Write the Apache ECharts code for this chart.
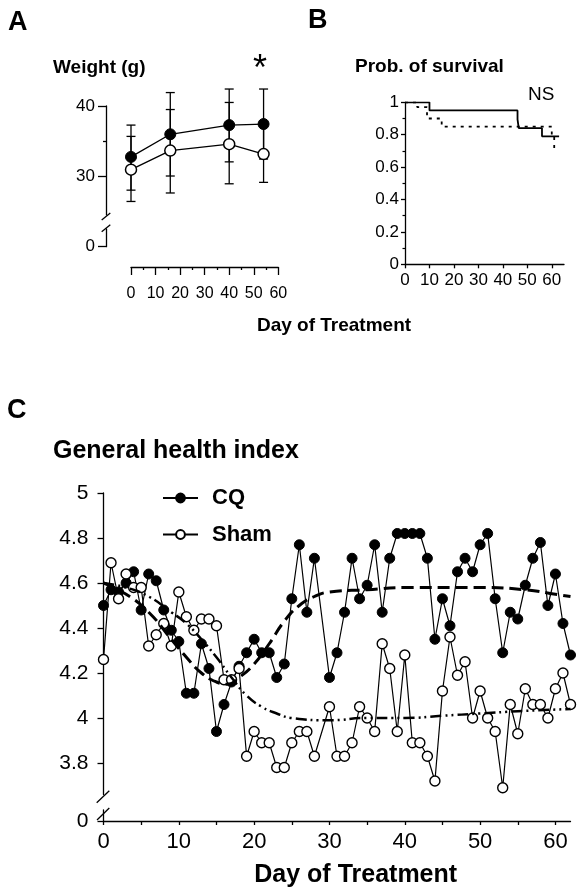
<!DOCTYPE html>
<html>
<head>
<meta charset="utf-8">
<script src="https://cdn.jsdelivr.net/npm/echarts@6.0.0/dist/echarts.min.js"></script>
<style>
html, body { margin: 0; padding: 0; background: #fff; }
#main { width: 580px; height: 888px; }
</style>
</head>
<body>
<div id="main"></div>
<script>
// ---- A: weight (g), mean and error bar ends
var weightDays = [0, 16, 40, 54];
var cqWeight = [32.8, 36.0, 37.3, 37.45];
var cqWeightHi = [37.3, 41.9, 42.4, 42.4];
var cqWeightLo = [28.1, 30.1, 32.1, 32.5];
var shamWeight = [31.0, 33.7, 34.6, 33.2];
var shamWeightHi = [35.7, 39.5, 40.5, 37.2];
var shamWeightLo = [26.5, 27.7, 29.0, 29.2];
var weightTicks = [30, 40];

// ---- B: probability of survival (step points)
var cqSurvDays = [0, 10, 46, 46.5, 56, 63];
var cqSurv = [1, 0.95, 0.895, 0.84, 0.79, 0.79];
var shamSurvDays = [0, 5, 9, 15, 60, 61];
var shamSurv = [1, 0.97, 0.9, 0.85, 0.79, 0.70];

// ---- C: general health index (no reading on day 29)
var healthDays = [0, 1, 2, 3, 4, 5, 6, 7, 8, 9, 10, 11, 12, 13, 14, 15, 16, 17, 18, 19,
    20, 21, 22, 23, 24, 25, 26, 27, 28, 30, 31, 32, 33, 34, 35, 36, 37, 38, 39, 40,
    41, 42, 43, 44, 45, 46, 47, 48, 49, 50, 51, 52, 53, 54, 55, 56, 57, 58, 59, 60, 61, 62];
var cqHealth = [4.50, 4.57, 4.56, 4.60, 4.65, 4.48, 4.64, 4.61, 4.48, 4.39, 4.34, 4.11, 4.11, 4.33, 4.22, 3.94, 4.06, 4.16, 4.23, 4.29,
    4.35, 4.29, 4.29, 4.18, 4.24, 4.53, 4.77, 4.47, 4.71, 4.18, 4.29, 4.47, 4.71, 4.53, 4.59, 4.77, 4.47, 4.71, 4.82, 4.82,
    4.82, 4.82, 4.71, 4.35, 4.53, 4.41, 4.65, 4.71, 4.65, 4.77, 4.82, 4.53, 4.29, 4.47, 4.44, 4.59, 4.71, 4.78, 4.50, 4.64, 4.42, 4.28];
var shamHealth = [4.26, 4.69, 4.53, 4.64, 4.58, 4.58, 4.32, 4.37, 4.42, 4.32, 4.56, 4.45, 4.39, 4.44, 4.44, 4.41, 4.17, 4.17, 4.22, 3.83,
    3.94, 3.89, 3.89, 3.78, 3.78, 3.89, 3.94, 3.94, 3.83, 4.05, 3.83, 3.83, 3.89, 4.05, 4.00, 3.94, 4.33, 4.22, 3.94, 4.28,
    3.89, 3.89, 3.83, 3.72, 4.12, 4.36, 4.19, 4.25, 4.00, 4.12, 4.00, 3.94, 3.69, 4.06, 3.93, 4.13, 4.06, 4.06, 4.00, 4.13, 4.20, 4.06];

// fitted trend curves
var cqTrendDays = [0, 3, 6, 9, 11, 13, 15, 16.5, 18, 20, 22, 24, 26, 28, 30, 35, 40, 50, 56, 60, 62];
var cqTrend = [4.60, 4.55, 4.47, 4.35, 4.27, 4.20, 4.16, 4.15, 4.18, 4.24, 4.33, 4.43, 4.50, 4.54, 4.56, 4.57, 4.58, 4.58, 4.57, 4.55, 4.54];
var shamTrendDays = [0, 3, 6, 9, 11, 13, 15, 17, 19, 21, 23, 25, 30, 35, 40, 45, 50, 55, 62];
var shamTrend = [4.60, 4.58, 4.54, 4.47, 4.42, 4.35, 4.27, 4.18, 4.10, 4.05, 4.02, 4.00, 3.99, 4.00, 4.00, 4.01, 4.02, 4.03, 4.04];

var healthTicks = [3.8, 4, 4.2, 4.4, 4.6, 4.8, 5];
var dayTicks = [0, 10, 20, 30, 40, 50, 60];
var dayTicks5 = [0, 5, 10, 15, 20, 25, 30, 35, 40, 45, 50, 55, 60];

var FONT = '"Liberation Sans", Arial, Helvetica, sans-serif';

function pairs(xs, ys) {
    return xs.map(function (x, i) { return [x, ys[i]]; });
}

function errorBarItem(params, api) {
    var x = api.value(0);
    var top = api.coord([x, api.value(1)]);
    var bot = api.coord([x, api.value(2)]);
    var w = 4.5;
    var st = { stroke: '#000', lineWidth: 1.3 };
    return {
        type: 'group',
        children: [
            { type: 'line', shape: { x1: top[0], y1: top[1], x2: bot[0], y2: bot[1] }, style: st },
            { type: 'line', shape: { x1: top[0] - w, y1: top[1], x2: top[0] + w, y2: top[1] }, style: st },
            { type: 'line', shape: { x1: bot[0] - w, y1: bot[1], x2: bot[0] + w, y2: bot[1] }, style: st }
        ]
    };
}

// axes are not pinned to the other axis' zero, so offsets work
var axisLine = { show: true, onZero: false, lineStyle: { color: '#000', width: 1.3 } };

var myChart = echarts.init(document.getElementById('main'));

option = {
    animation: false,
    textStyle: { fontFamily: FONT, color: '#000' },
    grid: [
        { left: 131, top: 106, width: 147.3, height: 108.9, outerBoundsMode: 'none' },   // A upper
        { left: 131, top: 229, width: 147.3, height: 17.7, outerBoundsMode: 'none' },    // A zero
        { left: 405, top: 102.3, width: 159, height: 162, outerBoundsMode: 'none' },     // B
        { left: 103.5, top: 493, width: 467, height: 301.5, outerBoundsMode: 'none' },   // C upper
        { left: 103.5, top: 810, width: 467, height: 11, outerBoundsMode: 'none' }       // C zero
    ],
    legend: {
        data: ['CQ', 'Sham'],
        orient: 'vertical',
        left: 157,
        top: 482,
        itemWidth: 35,
        itemHeight: 11,
        itemGap: 14.5,
        selectedMode: false,
        textStyle: { fontFamily: FONT, fontSize: 22, fontWeight: 'bold', color: '#000', padding: [0, 0, 0, 9] }
    },
    xAxis: [
        {
            gridIndex: 0, type: 'value', min: 0, max: 60, interval: 10, offset: 52.1,
            axisLine: axisLine,
            axisTick: { length: 8, lineStyle: { color: '#000', width: 1.3 } },
            minorTick: { show: true, splitNumber: 2, length: 3, lineStyle: { color: '#000', width: 1.3 } },
            axisLabel: { fontSize: 16, color: '#000', margin: 19, fontFamily: FONT },
            splitLine: { show: false }
        },
        { gridIndex: 1, type: 'value', min: 0, max: 60, show: false },
        {
            gridIndex: 2, type: 'value', min: 0, max: 65,
            axisLine: axisLine,
            axisTick: { customValues: dayTicks, length: 4, lineStyle: { color: '#000', width: 1.3 } },
            axisLabel: { customValues: dayTicks, fontSize: 17, color: '#000', margin: 8, fontFamily: FONT },
            splitLine: { show: false }
        },
        { gridIndex: 3, type: 'value', min: 0, max: 62, show: false },
        {
            gridIndex: 4, type: 'value', min: 0, max: 62,
            axisLine: axisLine,
            axisTick: { customValues: dayTicks5, length: 4, lineStyle: { color: '#000', width: 1.3 } },
            axisLabel: { customValues: dayTicks, fontSize: 22, color: '#000', margin: 10, fontFamily: FONT },
            splitLine: { show: false }
        }
    ],
    yAxis: [
        {
            gridIndex: 0, type: 'value', position: 'left', min: 24.6, max: 40, offset: 25,
            axisLine: axisLine,
            axisTick: { customValues: weightTicks, length: 8, lineStyle: { color: '#000', width: 1.3 } },
            axisLabel: { customValues: weightTicks, fontSize: 17, color: '#000', margin: 11, fontFamily: FONT },
            splitLine: { show: false }
        },
        {
            // minor tick at 35 g
            gridIndex: 0, type: 'value', position: 'left', min: 24.6, max: 40, offset: 25,
            axisLine: { show: false, onZero: false },
            axisTick: { customValues: [35], length: 3, lineStyle: { color: '#000', width: 1.3 } },
            axisLabel: { show: false },
            splitLine: { show: false }
        },
        {
            gridIndex: 1, type: 'value', position: 'left', min: 0, max: 1, offset: 25,
            axisLine: axisLine,
            axisTick: { customValues: [0], length: 8, lineStyle: { color: '#000', width: 1.3 } },
            axisLabel: { customValues: [0], fontSize: 17, color: '#000', margin: 11, fontFamily: FONT },
            splitLine: { show: false }
        },
        {
            gridIndex: 2, type: 'value', min: 0, max: 1, interval: 0.2,
            axisLine: axisLine,
            axisTick: { length: 4, lineStyle: { color: '#000', width: 1.3 } },
            minorTick: { show: true, splitNumber: 2, length: 2.5, lineStyle: { color: '#000', width: 1.2 } },
            axisLabel: { fontSize: 17, color: '#000', margin: 6, fontFamily: FONT },
            splitLine: { show: false }
        },
        {
            gridIndex: 3, type: 'value', min: 3.66, max: 5,
            axisLine: axisLine,
            axisTick: { customValues: healthTicks, length: 6, lineStyle: { color: '#000', width: 1.3 } },
            axisLabel: { customValues: healthTicks, fontSize: 21, color: '#000', margin: 15, fontFamily: FONT },
            splitLine: { show: false }
        },
        {
            gridIndex: 4, type: 'value', min: 0, max: 1,
            axisLine: axisLine,
            axisTick: { customValues: [0], length: 6, lineStyle: { color: '#000', width: 1.3 } },
            axisLabel: { customValues: [0], fontSize: 21, color: '#000', margin: 15, fontFamily: FONT },
            splitLine: { show: false }
        }
    ],
    series: [
        // A
        {
            name: 'CQ error', type: 'custom', xAxisIndex: 0, yAxisIndex: 0, clip: false, z: 1,
            renderItem: errorBarItem, encode: { x: 0, y: [1, 2] },
            data: weightDays.map(function (d, i) { return [d, cqWeightHi[i], cqWeightLo[i]]; })
        },
        {
            name: 'Sham error', type: 'custom', xAxisIndex: 0, yAxisIndex: 0, clip: false, z: 1,
            renderItem: errorBarItem, encode: { x: 0, y: [1, 2] },
            data: weightDays.map(function (d, i) { return [d, shamWeightHi[i], shamWeightLo[i]]; })
        },
        {
            name: 'Sham weight', type: 'line', xAxisIndex: 0, yAxisIndex: 0, z: 3,
            data: pairs(weightDays, shamWeight),
            symbol: 'circle', symbolSize: 11,
            itemStyle: { color: '#fff', borderColor: '#000', borderWidth: 1.5 },
            lineStyle: { color: '#000', width: 1.3 }
        },
        {
            name: 'CQ weight', type: 'line', xAxisIndex: 0, yAxisIndex: 0, z: 4,
            data: pairs(weightDays, cqWeight),
            symbol: 'circle', symbolSize: 11,
            itemStyle: { color: '#000', borderColor: '#000', borderWidth: 1 },
            lineStyle: { color: '#000', width: 1.3 }
        },
        // B
        {
            name: 'CQ survival', type: 'line', xAxisIndex: 2, yAxisIndex: 3, step: 'end',
            data: pairs(cqSurvDays, cqSurv), showSymbol: false, symbol: 'none',
            lineStyle: { color: '#000', width: 1.8 }
        },
        {
            name: 'Sham survival', type: 'line', xAxisIndex: 2, yAxisIndex: 3, step: 'end',
            data: pairs(shamSurvDays, shamSurv), showSymbol: false, symbol: 'none',
            lineStyle: { color: '#000', width: 1.8, type: [3, 5] }
        },
        // C
        {
            name: 'CQ', type: 'line', xAxisIndex: 3, yAxisIndex: 4, z: 3,
            data: pairs(healthDays, cqHealth),
            symbol: 'circle', symbolSize: 10,
            itemStyle: { color: '#000', borderColor: '#000', borderWidth: 1 },
            lineStyle: { color: '#000', width: 1.2 }
        },
        {
            name: 'Sham', type: 'line', xAxisIndex: 3, yAxisIndex: 4, z: 4,
            data: pairs(healthDays, shamHealth),
            symbol: 'circle', symbolSize: 10,
            itemStyle: { color: '#fff', borderColor: '#000', borderWidth: 1.4 },
            lineStyle: { color: '#000', width: 1.2 }
        },
        {
            name: 'CQ trend', type: 'line', xAxisIndex: 3, yAxisIndex: 4, z: 5,
            data: pairs(cqTrendDays, cqTrend), smooth: true, symbol: 'none',
            lineStyle: { color: '#000', width: 3, type: [12, 6] }
        },
        {
            name: 'Sham trend', type: 'line', xAxisIndex: 3, yAxisIndex: 4, z: 5,
            data: pairs(shamTrendDays, shamTrend), smooth: true, symbol: 'none',
            lineStyle: { color: '#000', width: 2.5, type: [11, 4, 2, 4, 2, 4] }
        }
    ],
    graphic: [
        { type: 'text', x: 8, y: 22.5, style: { text: 'A', font: 'bold 27px ' + FONT, fill: '#000', textVerticalAlign: 'middle' } },
        { type: 'text', x: 308, y: 21, style: { text: 'B', font: 'bold 27px ' + FONT, fill: '#000', textVerticalAlign: 'middle' } },
        { type: 'text', x: 7, y: 411, style: { text: 'C', font: 'bold 27px ' + FONT, fill: '#000', textVerticalAlign: 'middle' } },
        { type: 'text', x: 53, y: 67.8, style: { text: 'Weight (g)', font: 'bold 19px ' + FONT, fill: '#000', textVerticalAlign: 'middle' } },
        { type: 'text', x: 260, y: 70, style: { text: '*', font: '36px ' + FONT, fill: '#000', textAlign: 'center', textVerticalAlign: 'middle' } },
        { type: 'text', x: 355, y: 66.3, style: { text: 'Prob. of survival', font: 'bold 19px ' + FONT, fill: '#000', textVerticalAlign: 'middle' } },
        { type: 'text', x: 528, y: 95, style: { text: 'NS', font: '19px ' + FONT, fill: '#000', textVerticalAlign: 'middle' } },
        { type: 'text', x: 334, y: 325.7, style: { text: 'Day of Treatment', font: 'bold 19px ' + FONT, fill: '#000', textAlign: 'center', textVerticalAlign: 'middle' } },
        { type: 'text', x: 53, y: 450.8, style: { text: 'General health index', font: 'bold 25px ' + FONT, fill: '#000', textVerticalAlign: 'middle' } },
        { type: 'text', x: 355.7, y: 875, style: { text: 'Day of Treatment', font: 'bold 25px ' + FONT, fill: '#000', textAlign: 'center', textVerticalAlign: 'middle' } },
        // axis break marks
        { type: 'line', shape: { x1: 101.7, y1: 220, x2: 110.3, y2: 213 }, style: { stroke: '#000', lineWidth: 1.3 } },
        { type: 'line', shape: { x1: 101.7, y1: 231.7, x2: 110.3, y2: 224.7 }, style: { stroke: '#000', lineWidth: 1.3 } },
        { type: 'line', shape: { x1: 96.7, y1: 802.7, x2: 109.3, y2: 790.7 }, style: { stroke: '#000', lineWidth: 1.3 } },
        { type: 'line', shape: { x1: 97, y1: 820, x2: 109.3, y2: 808 }, style: { stroke: '#000', lineWidth: 1.3 } }
    ]
};

myChart.setOption(option);
</script>
</body>
</html>
